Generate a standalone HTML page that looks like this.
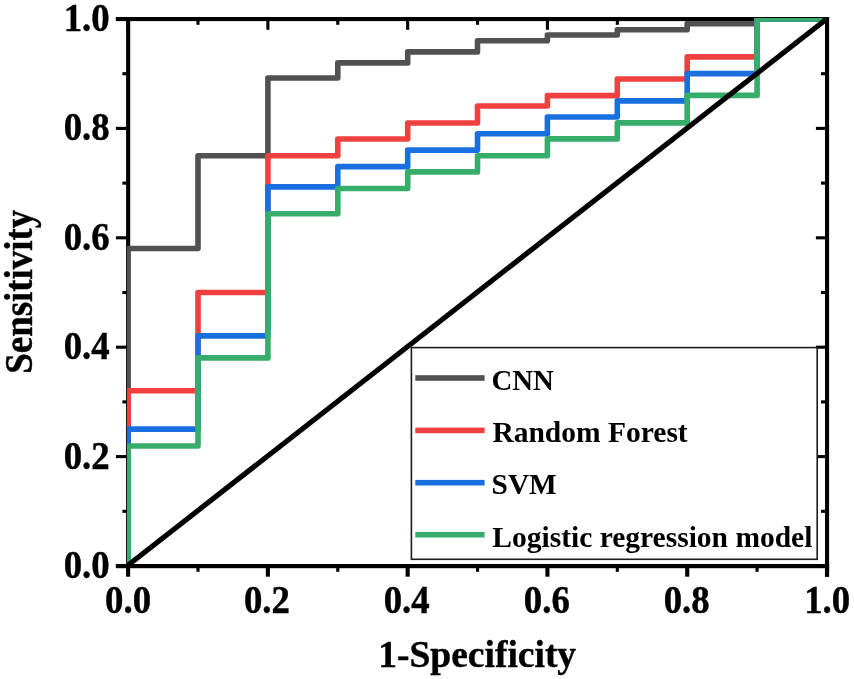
<!DOCTYPE html>
<html><head><meta charset="utf-8"><title>ROC</title>
<style>
html,body{margin:0;padding:0;background:#fff;}
body{width:854px;height:679px;overflow:hidden;}
svg{display:block;will-change:transform;}
text{font-family:"Liberation Serif",serif;font-weight:bold;fill:#000;}
.big{stroke:#000;stroke-width:0.4px;}
</style></head><body>
<svg width="854" height="679" viewBox="0 0 854 679">
<rect x="0" y="0" width="854" height="679" fill="#fff"/>
<defs><clipPath id="cp"><rect x="127.0" y="18" width="698.7" height="547"/></clipPath></defs>

<g fill="#000" shape-rendering="auto">
<rect x="126.1" y="17" width="4.1" height="551.2"/>
<rect x="825" y="17" width="4.1" height="559.7"/>
<rect x="115.9" y="17" width="713.2" height="4.1"/>
<rect x="115.9" y="564" width="713.2" height="4.2"/>
<rect x="115.9" y="564.45" width="11" height="3.1"/>
<rect x="815.9" y="564.45" width="10" height="3.1"/>
<rect x="126.55" y="20" width="3.1" height="9.8"/>
<rect x="126.05" y="567" width="4.1" height="9.7"/>
<rect x="122.4" y="509.75" width="4.6" height="3.1"/>
<rect x="821" y="509.75" width="5" height="3.1"/>
<rect x="196.44" y="20" width="3.1" height="4.8"/>
<rect x="196.44" y="567" width="3.1" height="4.8"/>
<rect x="115.9" y="455.05" width="11" height="3.1"/>
<rect x="815.9" y="455.05" width="10" height="3.1"/>
<rect x="266.33" y="20" width="3.1" height="9.8"/>
<rect x="265.83" y="567" width="4.1" height="9.7"/>
<rect x="122.4" y="400.35" width="4.6" height="3.1"/>
<rect x="821" y="400.35" width="5" height="3.1"/>
<rect x="336.22" y="20" width="3.1" height="4.8"/>
<rect x="336.22" y="567" width="3.1" height="4.8"/>
<rect x="115.9" y="345.65" width="11" height="3.1"/>
<rect x="815.9" y="345.65" width="10" height="3.1"/>
<rect x="406.11" y="20" width="3.1" height="9.8"/>
<rect x="405.61" y="567" width="4.1" height="9.7"/>
<rect x="122.4" y="290.95" width="4.6" height="3.1"/>
<rect x="821" y="290.95" width="5" height="3.1"/>
<rect x="476.00" y="20" width="3.1" height="4.8"/>
<rect x="476.00" y="567" width="3.1" height="4.8"/>
<rect x="115.9" y="236.25" width="11" height="3.1"/>
<rect x="815.9" y="236.25" width="10" height="3.1"/>
<rect x="545.89" y="20" width="3.1" height="9.8"/>
<rect x="545.39" y="567" width="4.1" height="9.7"/>
<rect x="122.4" y="181.55" width="4.6" height="3.1"/>
<rect x="821" y="181.55" width="5" height="3.1"/>
<rect x="615.78" y="20" width="3.1" height="4.8"/>
<rect x="615.78" y="567" width="3.1" height="4.8"/>
<rect x="115.9" y="126.85" width="11" height="3.1"/>
<rect x="815.9" y="126.85" width="10" height="3.1"/>
<rect x="685.67" y="20" width="3.1" height="9.8"/>
<rect x="685.17" y="567" width="4.1" height="9.7"/>
<rect x="122.4" y="72.15" width="4.6" height="3.1"/>
<rect x="821" y="72.15" width="5" height="3.1"/>
<rect x="755.56" y="20" width="3.1" height="4.8"/>
<rect x="755.56" y="567" width="3.1" height="4.8"/>
<rect x="115.9" y="17.45" width="11" height="3.1"/>
<rect x="815.9" y="17.45" width="10" height="3.1"/>
<rect x="825.45" y="20" width="3.1" height="9.8"/>
<rect x="824.95" y="567" width="4.1" height="9.7"/>
</g>
<g clip-path="url(#cp)" fill="none" stroke-linejoin="round" stroke-linecap="butt">
<path d="M128.1,566.0 L128.1,248.5 L198.0,248.5 L198.0,155.8 L267.9,155.8 L267.9,78.0 L337.8,78.0 L337.8,62.9 L407.7,62.9 L407.7,51.9 L477.5,51.9 L477.5,40.8 L547.4,40.8 L547.4,35.0 L617.3,35.0 L617.3,29.8 L687.2,29.8 L687.2,23.8 L757.1,23.8 L757.1,19.0 L827.0,19.0" stroke="#515151" stroke-width="5.6"/>
<path d="M128.1,566.0 L128.1,390.8 L198.0,390.8 L198.0,292.5 L267.9,292.5 L267.9,155.8 L337.8,155.8 L337.8,139.0 L407.7,139.0 L407.7,123.0 L477.5,123.0 L477.5,106.0 L547.4,106.0 L547.4,95.6 L617.3,95.6 L617.3,79.0 L687.2,79.0 L687.2,56.9 L757.1,56.9 L757.1,19.0 L827.0,19.0" stroke="#F14040" stroke-width="5.6"/>
<path d="M128.1,566.0 L128.1,429.1 L198.0,429.1 L198.0,335.9 L267.9,335.9 L267.9,186.9 L337.8,186.9 L337.8,166.6 L407.7,166.6 L407.7,150.1 L477.5,150.1 L477.5,133.8 L547.4,133.8 L547.4,117.0 L617.3,117.0 L617.3,100.9 L687.2,100.9 L687.2,73.6 L757.1,73.6 L757.1,19.0 L827.0,19.0" stroke="#1A6FDF" stroke-width="5.6"/>
<path d="M128.1,566.0 L128.1,446.0 L198.0,446.0 L198.0,357.9 L267.9,357.9 L267.9,213.8 L337.8,213.8 L337.8,188.5 L407.7,188.5 L407.7,171.9 L477.5,171.9 L477.5,155.8 L547.4,155.8 L547.4,138.9 L617.3,138.9 L617.3,122.9 L687.2,122.9 L687.2,95.4 L757.1,95.4 L757.1,19.0 L827.0,19.0" stroke="#37AD6B" stroke-width="5.6"/>
<path d="M125.7,567.0 L827.0,18.7" stroke="#000" stroke-width="5.2"/>
</g>
<rect x="411.4" y="347.6" width="405.8" height="211.7" fill="#fff" stroke="#1c1c1c" stroke-width="1.6"/>
<rect x="415.3" y="375.2" width="69.3" height="5.6" fill="#515151"/>
<text transform="translate(491.4,390.2) scale(0.978,1)" font-size="29.5">CNN</text>
<rect x="415.3" y="427.6" width="69.3" height="5.6" fill="#F14040"/>
<text transform="translate(492.4,442.3) scale(1,1)" font-size="29.5">Random Forest</text>
<rect x="415.3" y="479.9" width="69.3" height="5.6" fill="#1A6FDF"/>
<text transform="translate(491.6,494.4) scale(0.995,1)" font-size="29.5">SVM</text>
<rect x="415.3" y="531.9" width="69.3" height="5.6" fill="#37AD6B"/>
<text transform="translate(492.3,546.9) scale(1,1)" font-size="29.5">Logistic regression model</text>
<text transform="translate(109.6,577.9) scale(1,1.085)" class="big" font-size="36.8" text-anchor="end">0.0</text>
<text transform="translate(128.1,612.8) scale(1,1.085)" class="big" font-size="36.8" text-anchor="middle">0.0</text>
<text transform="translate(109.6,468.5) scale(1,1.085)" class="big" font-size="36.8" text-anchor="end">0.2</text>
<text transform="translate(266.9,612.8) scale(1,1.085)" class="big" font-size="36.8" text-anchor="middle">0.2</text>
<text transform="translate(109.6,359.1) scale(1,1.085)" class="big" font-size="36.8" text-anchor="end">0.4</text>
<text transform="translate(406.7,612.8) scale(1,1.085)" class="big" font-size="36.8" text-anchor="middle">0.4</text>
<text transform="translate(109.6,249.7) scale(1,1.085)" class="big" font-size="36.8" text-anchor="end">0.6</text>
<text transform="translate(546.8,612.8) scale(1,1.085)" class="big" font-size="36.8" text-anchor="middle">0.6</text>
<text transform="translate(109.6,140.3) scale(1,1.085)" class="big" font-size="36.8" text-anchor="end">0.8</text>
<text transform="translate(686.7,612.8) scale(1,1.085)" class="big" font-size="36.8" text-anchor="middle">0.8</text>
<text transform="translate(109.6,30.9) scale(1,1.085)" class="big" font-size="36.8" text-anchor="end">1.0</text>
<text transform="translate(827.2,612.8) scale(1,1.085)" class="big" font-size="36.8" text-anchor="middle">1.0</text>
<text x="477.2" y="667" class="big" font-size="37.5" text-anchor="middle">1-Specificity</text>
<text transform="translate(32.0,291.7) rotate(-90) scale(1,1.06)" class="big" font-size="36.9" text-anchor="middle">Sensitivity</text>
</svg></body></html>
